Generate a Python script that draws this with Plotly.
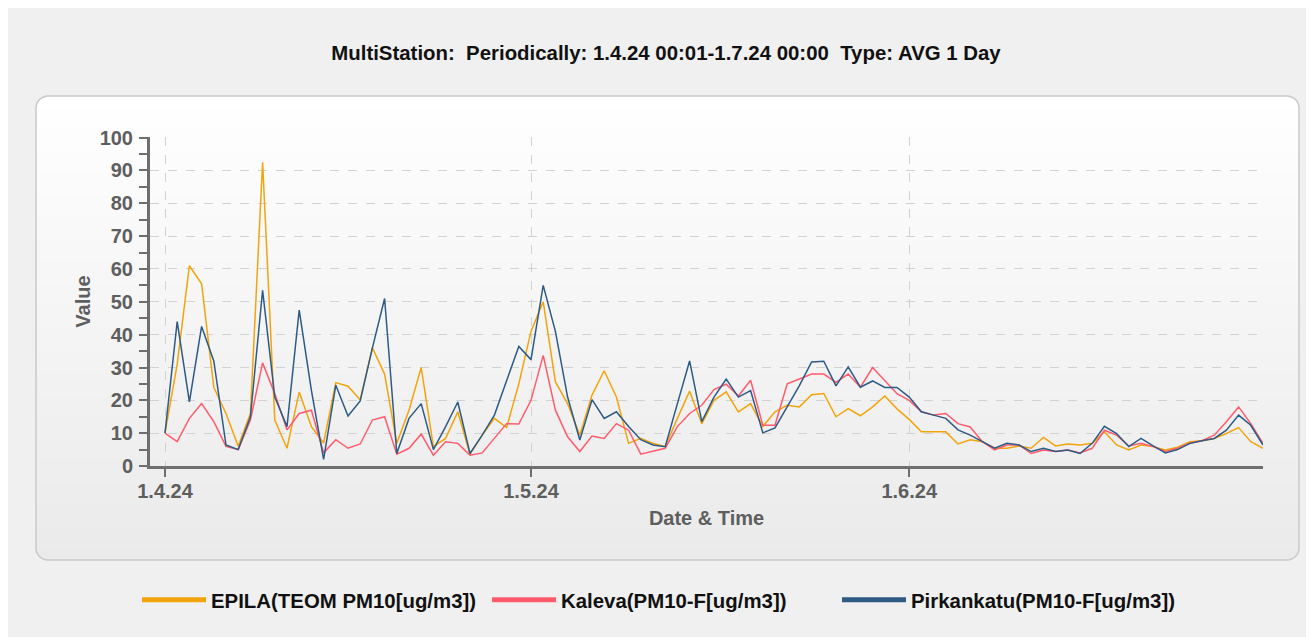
import math
import pandas as pd
import plotly.graph_objects as go

# ---------------- data ----------------
dates = pd.date_range("2024-04-01", "2024-06-30", freq="D")

epila = [10, 31, 61, 55.5, 24, 16, 6, 16, 92.5, 14, 5.4, 22.5, 12, 7,
         25.4, 24.3, 20.2, 36, 28, 6.9, 17, 30, 5.9, 8.4, 16.5, 3.6, 9.4, 14.5, 11.7, 25,
         41, 50, 25.6, 19, 9.4, 21.6, 29, 21, 6.9, 8.4, 6.9, 5.9, 14.5, 22.8, 12.9, 20,
         22.6, 16.5, 19, 12, 16.5, 18.5, 18, 21.7, 22.1, 15, 17.5, 15.3, 18, 21.3, 17.4, 14.2,
         10.4, 10.4, 10.4, 6.7, 8, 7.4, 5.4, 5.4, 6.1, 5.4, 8.7, 6.1, 6.7, 6.4, 6.9,
         10.4, 6.4, 4.9, 6.4, 5.9, 4.9, 5.7, 7.4, 7.7, 8.4, 9.9, 11.7, 7.4, 5.4]

kaleva = [10, 7.4, 14.5, 19, 13.5, 6, 5, 14, 31.4, 22, 11, 16, 17, 4,
          8, 5.4, 6.7, 14, 15, 3.6, 5.4, 9.7, 3.3, 7.4, 6.9, 3.3, 4, 8.4, 12.9, 12.8,
          20, 33.7, 17, 8.9, 4.4, 9.1, 8.4, 12.9, 10.9, 3.6, 4.4, 5.4, 12, 16, 18.5, 23.3,
          24.9, 21.3, 26.1, 12.4, 12.4, 25, 26.5, 28, 28, 25.5, 28, 24, 30, 26, 22, 20,
          16.5, 15.5, 16, 12.9, 11.9, 7.4, 4.9, 6.4, 6.4, 3.8, 4.9, 4.4, 4.9, 4, 5.4,
          10.9, 9.4, 6.1, 6.9, 5.9, 4.4, 5.4, 6.9, 7.7, 9.4, 13.5, 18, 12.9, 6.9]

pirkankatu = [10, 44, 19.5, 42.5, 32, 6.4, 5, 15, 53.5, 21, 12, 47.5, 23, 2,
              24.6, 15.2, 19.8, 36, 51, 3.8, 14.5, 19, 5, 12, 19.5, 3.8, 9.4, 15.5, 26, 36.4,
              32.4, 55, 41, 21, 7.9, 20.2, 14.5, 16.5, 12, 8, 6.4, 5.9, 19, 32, 13.5, 21,
              26.5, 21, 23, 10.1, 11.6, 18, 24.5, 31.7, 31.9, 24.4, 30.2, 24, 25.9, 23.9, 23.9, 21,
              16.5, 15.5, 14.5, 11, 9.4, 7.4, 5.4, 6.9, 6.4, 4.4, 5.4, 4.4, 4.9, 3.8, 6.9,
              12.1, 9.9, 5.9, 8.4, 6.1, 4, 5, 6.9, 7.7, 8.4, 10.9, 15.5, 12.4, 6.4]

series_names = ["EPILA(TEOM PM10[ug/m3])", "Kaleva(PM10-F[ug/m3])", "Pirkankatu(PM10-F[ug/m3])"]
series_colors = ["#F2A40C", "#FF5B6C", "#2D5B86"]

tick_dates = ["2024-04-01", "2024-05-01", "2024-06-01"]
tick_labels = ["1.4.24", "1.5.24", "1.6.24"]

title_text = ("MultiStation:\u00a0\u00a0Periodically: 1.4.24 00:01-1.7.24 00:00"
              "\u00a0\u00a0Type: AVG 1 Day")

# ---------------- layout geometry (page pixels; the page has an 8px body margin) ----------------
OFF = 8
W, H = 1314, 637
PL, PR, PT, PB = 150 - OFF, 1263 - OFF, 137 - OFF, 466 - OFF
FONT = "Liberation Sans, Arial, sans-serif"


def px(x):
    return (x - OFF - PL) / (PR - PL)


def py(y):
    return (PB - (y - OFF)) / (PB - PT)


fig = go.Figure()

values = [epila, kaleva, pirkankatu]
for name, col, vals in zip(series_names, series_colors, values):
    fig.add_trace(go.Scatter(x=dates, y=vals, mode="lines", name=name,
                             line=dict(color=col, width=1.5), showlegend=False,
                             hoverinfo="x+y+name"))
# legend entries (thicker line swatches)
for name, col in zip(series_names, series_colors):
    fig.add_trace(go.Scatter(x=[None], y=[None], mode="lines", name=name,
                             line=dict(color=col, width=5), showlegend=True))

# ---------------- panel with vertical gradient & rounded corners ----------------
shapes = []
L, R, T, B, RAD = 36, 1299, 96, 560, 12


def inset(y):
    if y < T + RAD:
        dy = T + RAD - y
        return RAD - math.sqrt(max(RAD * RAD - dy * dy, 0))
    if y > B - RAD:
        dy = y - (B - RAD)
        return RAD - math.sqrt(max(RAD * RAD - dy * dy, 0))
    return 0.0


def lerp_col(t, c0=(255, 255, 255), c1=(234, 234, 234)):
    return "rgb(%d,%d,%d)" % tuple(round(a + (b - a) * t) for a, b in zip(c0, c1))


step = 4
y = T
while y < B:
    y2 = min(y + step, B)
    ya, yb = y, min(y2 + 0.6, B)
    ia, ib = inset(ya), inset(yb)
    path = "M%.5f,%.5f L%.5f,%.5f L%.5f,%.5f L%.5f,%.5f Z" % (
        px(L + ia), py(ya), px(R - ia), py(ya), px(R - ib), py(yb), px(L + ib), py(yb))
    t = ((y + y2) / 2 - T) / (B - T)
    shapes.append(dict(type="path", xref="paper", yref="paper", path=path,
                       fillcolor=lerp_col(t), line=dict(width=0), layer="below"))
    y = y2

# rounded border
pts = []
n = 8


def arc(cx, cy, a0, a1):
    out = []
    for k in range(n + 1):
        a = math.radians(a0 + (a1 - a0) * k / n)
        out.append((cx + RAD * math.cos(a), cy + RAD * math.sin(a)))
    return out


pts += arc(L + RAD, T + RAD, 180, 270)
pts += arc(R - RAD, T + RAD, 270, 360)
pts += arc(R - RAD, B - RAD, 0, 90)
pts += arc(L + RAD, B - RAD, 90, 180)
border = "M" + " L".join("%.5f,%.5f" % (px(a), py(b)) for a, b in pts) + " Z"
shapes.append(dict(type="path", xref="paper", yref="paper", path=border,
                   line=dict(color="#C9C9C9", width=1.5), layer="below"))

fig.update_layout(
    width=W, height=H,
    margin=dict(l=PL, r=W - PR, t=PT, b=H - PB, autoexpand=False),
    paper_bgcolor="#F0F0F0",
    plot_bgcolor="rgba(0,0,0,0)",
    font=dict(family=FONT, color="#5E5E5E"),
    title=dict(text=title_text, x=(666 - OFF) / W, xanchor="center", xref="container",
               y=1 - (53 - OFF) / H, yanchor="middle", yref="container",
               font=dict(family=FONT, size=20.4, color="#111111", weight="bold")),
    shapes=shapes,
    showlegend=True,
    legend=dict(orientation="h", x=px(137), xanchor="left", y=py(600), yanchor="middle",
                entrywidth=271, entrywidthmode="pixels", itemwidth=64,
                font=dict(family=FONT, size=20.4, color="#111111", weight="bold"),
                bgcolor="rgba(0,0,0,0)", traceorder="normal"),
)

fig.update_xaxes(
    type="date",
    range=["2024-03-30 18:30", "2024-06-30 00:00"],
    tickvals=tick_dates, ticktext=tick_labels,
    ticks="outside", ticklen=8, tickwidth=2, tickcolor="#6E6E6E",
    ticklabelstandoff=-3,
    showline=True, linecolor="#6E6E6E", linewidth=3,
    showgrid=True, gridcolor="#D2D2D2", griddash="dash", gridwidth=1,
    zeroline=False,
    tickfont=dict(family=FONT, size=20, color="#5E5E5E", weight="bold"),
    title=dict(text="Date & Time", standoff=10,
               font=dict(family=FONT, size=20, color="#5E5E5E", weight="bold")),
)
fig.update_yaxes(
    range=[0, 100.2], dtick=10, tick0=0,
    ticks="outside", ticklen=8, tickwidth=2, tickcolor="#6E6E6E",
    ticklabelstandoff=2,
    minor=dict(dtick=5, ticks="outside", ticklen=8, tickwidth=2, tickcolor="#6E6E6E",
               showgrid=False),
    showline=True, linecolor="#6E6E6E", linewidth=3,
    showgrid=True, gridcolor="#D2D2D2", griddash="dash", gridwidth=1,
    zeroline=False,
    tickfont=dict(family=FONT, size=20, color="#5E5E5E", weight="bold"),
    title=dict(text="Value", standoff=4,
               font=dict(family=FONT, size=20, color="#5E5E5E", weight="bold")),
)

fig.write_html("out.html")
